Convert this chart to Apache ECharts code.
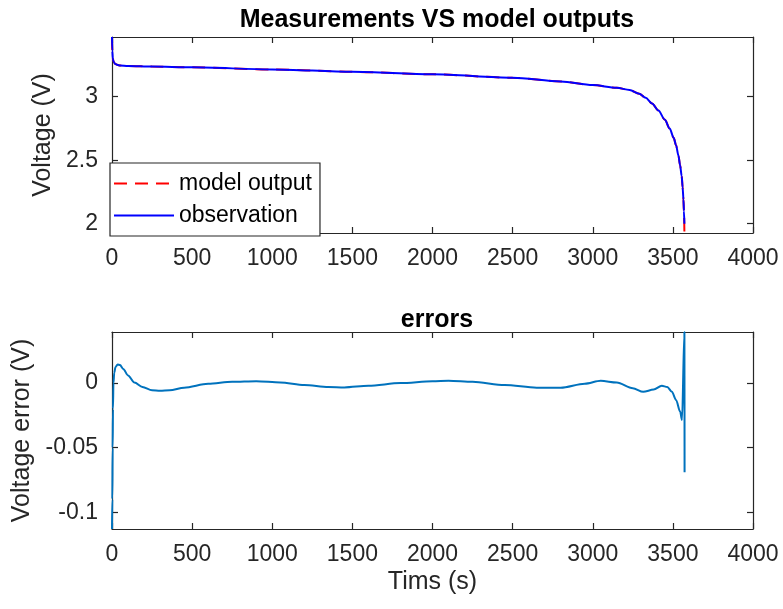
<!DOCTYPE html>
<html>
<head>
<meta charset="utf-8">
<script src="https://cdn.jsdelivr.net/npm/echarts@6/dist/echarts.min.js"></script>
<style>
  html, body { margin: 0; padding: 0; background: #fff; }
  #chart { width: 783px; height: 609px; }
</style>
</head>
<body>
<div id="chart"></div>
<script>
// Discharge test: time stamps (s) and terminal voltage (V)
const timeV = [0, 2, 5, 10, 20, 35, 50, 100, 250, 500, 1000, 1500, 2000, 2500, 2800, 3000, 3150, 3230, 3290, 3330, 3370, 3410, 3450, 3480, 3505, 3520, 3535, 3545, 3555, 3561, 3566, 3569, 3572];
const observation = [3.47, 3.36, 3.30, 3.275, 3.258, 3.25, 3.246, 3.242, 3.237, 3.231, 3.215, 3.196, 3.176, 3.149, 3.12, 3.092, 3.07, 3.053, 3.023, 2.991, 2.947, 2.891, 2.819, 2.75, 2.677, 2.617, 2.535, 2.46, 2.375, 2.285, 2.19, 2.10, 2.0];
const modelOutput = [3.47, 3.36, 3.30, 3.275, 3.258, 3.25, 3.246, 3.242, 3.237, 3.231, 3.215, 3.196, 3.176, 3.149, 3.12, 3.092, 3.07, 3.053, 3.023, 2.991, 2.947, 2.891, 2.819, 2.75, 2.677, 2.617, 2.535, 2.46, 2.375, 2.285, 2.19, 2.10, 1.927];

// Voltage error over the same test (V)
const timeErr = [0, 2, 4, 6, 9, 14, 22, 35, 50, 70, 100, 140, 190, 250, 300, 360, 450, 600, 750, 900, 1050, 1200, 1350, 1450, 1600, 1800, 2000, 2100, 2250, 2450, 2650, 2800, 2950, 3050, 3150, 3250, 3315, 3380, 3431, 3465, 3494, 3520, 3545, 3557, 3572, 3573];
const voltageError = [-0.113, -0.09, -0.05, -0.02, 0.0, 0.008, 0.0125, 0.0145, 0.014, 0.011, 0.006, 0.0005, -0.003, -0.0055, -0.006, -0.0055, -0.0035, -0.0005, 0.001, 0.0015, 0.0005, -0.0015, -0.003, -0.0033, -0.002, 0.0, 0.0014, 0.0018, 0.001, -0.0015, -0.0035, -0.0036, -0.0005, 0.0018, 0.0005, -0.004, -0.0067, -0.005, -0.002, -0.003, -0.0067, -0.013, -0.022, -0.0286, 0.0396, -0.069];

// Tick labels
const timeTicks = [0, 500, 1000, 1500, 2000, 2500, 3000, 3500, 4000];
const voltageTicks = [2, 2.5, 3];
const errorTicks = [-0.1, -0.05, 0];

const FONT = "'Liberation Sans', Arial, Helvetica, sans-serif";
const AX = '#262626';

function pairs(xs, ys) { return xs.map((x, i) => [x, ys[i]]); }

function boxAxis(grid, pos, min, max, ticks, showLabels, extra) {
  const a = {
    type: 'value', gridIndex: grid, position: pos, min: min, max: max,
    axisLine: { show: true, onZero: false, lineStyle: { color: AX, width: 1.2 } },
    axisTick: { show: true, inside: true, length: 6, customValues: ticks, lineStyle: { color: AX, width: 1.2 } },
    axisLabel: showLabels
      ? { show: true, customValues: ticks, color: AX, fontSize: 23, fontFamily: FONT, margin: 14,
          formatter: v => String(v) }
      : { show: false },
    splitLine: { show: false }
  };
  return Object.assign(a, extra || {});
}

const chart = echarts.init(document.getElementById('chart'), null, { renderer: 'canvas' });
chart.setOption({
  backgroundColor: '#fff',
  animation: false,
  title: [
    { text: 'Measurements VS model outputs', left: 432, top: 3, textAlign: 'center',
      textStyle: { fontFamily: FONT, fontSize: 25, fontWeight: 'bold', color: '#000' } },
    { text: 'errors', left: 432, top: 303, textAlign: 'center',
      textStyle: { fontFamily: FONT, fontSize: 25, fontWeight: 'bold', color: '#000' } }
  ],
  grid: [
    { left: 112, top: 37, width: 641, height: 196 },
    { left: 112, top: 332, width: 641, height: 197 }
  ],
  legend: {
    data: ['model output', 'observation'],
    orient: 'vertical', left: 110, top: 163,
    backgroundColor: '#fff', borderColor: AX, borderWidth: 1.2,
    padding: [9, 8, 9, 3], itemWidth: 60, itemHeight: 14, itemGap: 9,
    itemStyle: { opacity: 0 },
    textStyle: { fontFamily: FONT, fontSize: 23, color: '#000' },
    z: 10
  },
  xAxis: [
    boxAxis(0, 'bottom', 0, 4000, timeTicks, true),
    boxAxis(0, 'top', 0, 4000, timeTicks, false),
    boxAxis(1, 'bottom', 0, 4000, timeTicks, true, {
      name: 'Tims (s)', nameLocation: 'middle', nameGap: 41,
      nameTextStyle: { fontFamily: FONT, fontSize: 25, color: AX }
    }),
    boxAxis(1, 'top', 0, 4000, timeTicks, false)
  ],
  yAxis: [
    boxAxis(0, 'left', 1.927, 3.47, voltageTicks, true, {
      name: 'Voltage (V)', nameLocation: 'middle', nameGap: 53,
      nameTextStyle: { fontFamily: FONT, fontSize: 25, color: AX }
    }),
    boxAxis(0, 'right', 1.927, 3.47, voltageTicks, false),
    boxAxis(1, 'left', -0.113, 0.0396, errorTicks, true, {
      name: 'Voltage error (V)', nameLocation: 'middle', nameGap: 75,
      nameTextStyle: { fontFamily: FONT, fontSize: 25, color: AX }
    }),
    boxAxis(1, 'right', -0.113, 0.0396, errorTicks, false)
  ],
  series: [
    { name: 'model output', type: 'line', xAxisIndex: 0, yAxisIndex: 0,
      data: pairs(timeV, modelOutput), showSymbol: false, symbol: 'none',
      smooth: 0.3, smoothMonotone: 'x',
      lineStyle: { color: '#ff0000', width: 2, type: [13, 8] }, itemStyle: { color: '#ff0000' } },
    { name: 'observation', type: 'line', xAxisIndex: 0, yAxisIndex: 0,
      data: pairs(timeV, observation), showSymbol: false, symbol: 'none',
      smooth: 0.3, smoothMonotone: 'x',
      lineStyle: { color: '#0000ff', width: 2 }, itemStyle: { color: '#0000ff' } },
    { name: 'error', type: 'line', xAxisIndex: 2, yAxisIndex: 2,
      data: pairs(timeErr, voltageError), showSymbol: false, symbol: 'none',
      smooth: 0.3, smoothMonotone: 'x',
      lineStyle: { color: '#0072bd', width: 2 }, itemStyle: { color: '#0072bd' } }
  ]
});
</script>
</body>
</html>
